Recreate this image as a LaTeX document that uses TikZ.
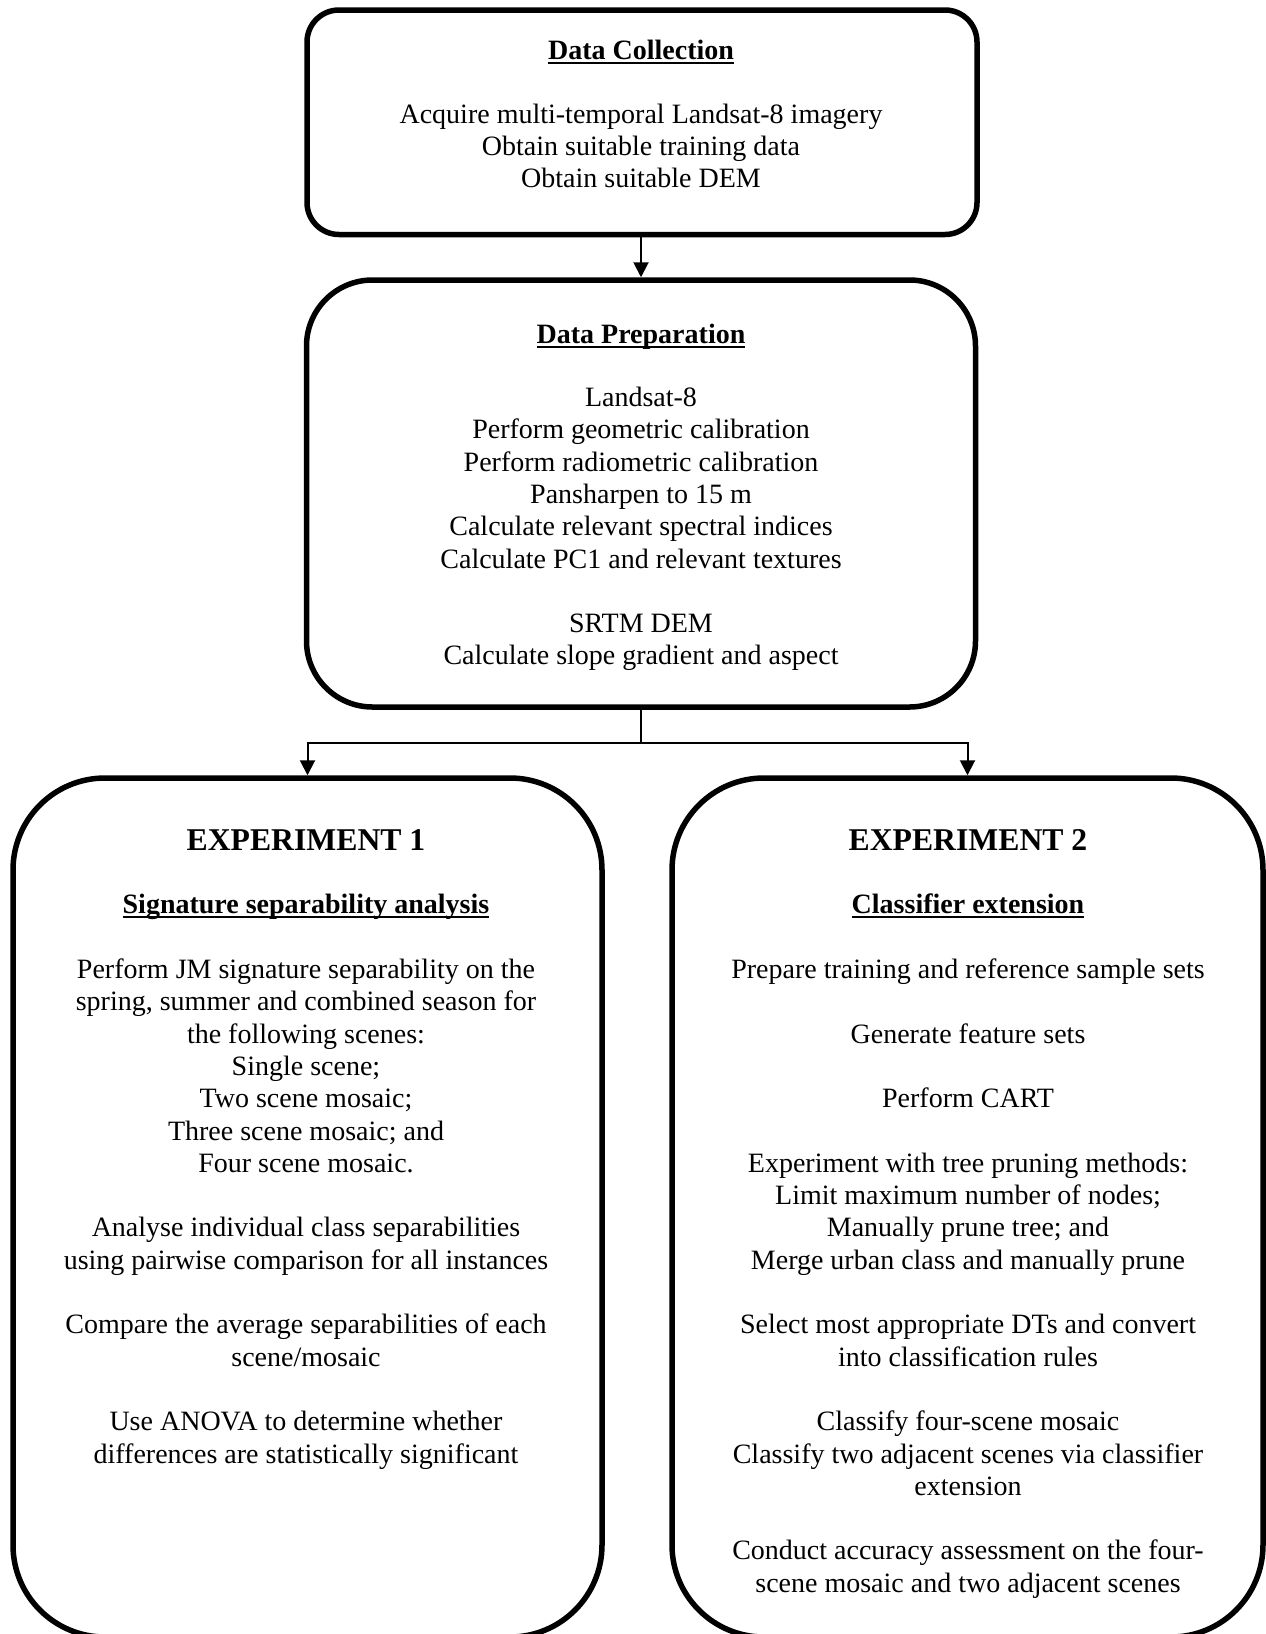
\documentclass[tikz,border=0pt]{standalone}
\usepackage{fontspec}
\setmainfont{Liberation Serif}
\usetikzlibrary{arrows.meta}
\newsavebox\myulsave
\newcommand\myul[1]{\sbox\myulsave{#1}\rlap{\rule[-5pt]{\wd\myulsave}{2pt}}\usebox\myulsave}
\begin{document}
\begin{tikzpicture}[x=1pt,y=-1pt,
  box/.style={draw, line width=5.5pt, inner sep=0pt},
  conn/.style={line width=2pt},
  arr/.style={conn, -{Triangle[length=15pt,width=15pt]}},
  txt/.style={anchor=base, inner sep=0pt, font=\fontsize{28}{32.3}\selectfont},
  ttl/.style={anchor=base, inner sep=0pt, font=\fontsize{28}{32.3}\selectfont\bfseries},
  big/.style={anchor=base, inner sep=0pt, font=\fontsize{31.7}{36}\selectfont\bfseries}]
\useasboundingbox (0,0) rectangle (1266,1634);
\clip (0,0) rectangle (1266,1634);

% boxes
\node[box, minimum width=670pt, minimum height=224.5pt, rounded corners=32pt] (b1) at (642,122.25) {};
\node[box, minimum width=669pt, minimum height=427pt, rounded corners=66pt] (b2) at (641,493.5) {};
\node[box, minimum width=589pt, minimum height=859pt, rounded corners=92pt] (b3) at (307.5,1207.5) {};
\node[box, minimum width=591pt, minimum height=859pt, rounded corners=92pt] (b4) at (967.5,1207.5) {};

% connectors
\draw[arr] (b1.south -| b2.north) -- (b2.north);
\coordinate (j) at (641,743);
\draw[conn] (b2.south) -- (j);
\draw[arr] (j) -| (b3.north);
\draw[arr] (j) -| (b4.north);

% box 1
\node[ttl] (t1) at (641,59) {\myul{Data Collection}};
\node[txt] (t1a) at (641,123) {Acquire multi-temporal Landsat-8 imagery};
\node[txt] (t1b) at (641,155.3) {Obtain suitable training data};
\node[txt] (t1c) at (641,187.6) {Obtain suitable DEM};

% box 2
\node[ttl] (t2) at (641,343) {\myul{Data Preparation}};
\node[txt] (t2a) at (641,406.5) {Landsat-8};
\node[txt] (t2b) at (641,438.8) {Perform geometric calibration};
\node[txt] (t2c) at (641,471.1) {Perform radiometric calibration};
\node[txt] (t2d) at (641,503.4) {Pansharpen to 15 m};
\node[txt] (t2e) at (641,535.7) {Calculate relevant spectral indices};
\node[txt] (t2f) at (641,568) {Calculate PC1 and relevant textures};
\node[txt] (t2g) at (641,632.6) {SRTM DEM};
\node[txt] (t2h) at (641,664.9) {Calculate slope gradient and aspect};

% box 3
\node[big] (t3) at (306,850) {EXPERIMENT 1};
\node[ttl] (t3s) at (306,913) {\myul{Signature separability analysis}};
\node[txt] (t3a) at (306,978.5) {Perform JM signature separability on the};
\node[txt] (t3b) at (306,1010.8) {spring, summer and combined season for};
\node[txt] (t3c) at (306,1043.1) {the following scenes:};
\node[txt] (t3d) at (306,1075.4) {Single scene;};
\node[txt] (t3e) at (306,1107.7) {Two scene mosaic;};
\node[txt] (t3f) at (306,1140) {Three scene mosaic; and};
\node[txt] (t3g) at (306,1172.3) {Four scene mosaic.};
\node[txt] (t3h) at (306,1236.9) {Analyse individual class separabilities};
\node[txt] (t3i) at (306,1269.2) {using pairwise comparison for all instances};
\node[txt] (t3j) at (306,1333.8) {Compare the average separabilities of each};
\node[txt] (t3k) at (306,1366.1) {scene/mosaic};
\node[txt] (t3l) at (306,1430.7) {Use ANOVA to determine whether};
\node[txt] (t3m) at (306,1463) {differences are statistically significant};

% box 4
\node[big] (t4) at (968,850) {EXPERIMENT 2};
\node[ttl] (t4s) at (968,913) {\myul{Classifier extension}};
\node[txt] (t4a) at (968,978.5) {Prepare training and reference sample sets};
\node[txt] (t4b) at (968,1043.1) {Generate feature sets};
\node[txt] (t4c) at (968,1107.7) {Perform CART};
\node[txt] (t4d) at (968,1172.3) {Experiment with tree pruning methods:};
\node[txt] (t4e) at (968,1204.6) {Limit maximum number of nodes;};
\node[txt] (t4f) at (968,1236.9) {Manually prune tree; and};
\node[txt] (t4g) at (968,1269.2) {Merge urban class and manually prune};
\node[txt] (t4h) at (968,1333.8) {Select most appropriate DTs and convert};
\node[txt] (t4i) at (968,1366.1) {into classification rules};
\node[txt] (t4j) at (968,1430.7) {Classify four-scene mosaic};
\node[txt] (t4k) at (968,1463) {Classify two adjacent scenes via classifier};
\node[txt] (t4l) at (968,1495.3) {extension};
\node[txt] (t4m) at (968,1559.9) {Conduct accuracy assessment on the four-};
\node[txt] (t4n) at (968,1592.2) {scene mosaic and two adjacent scenes};
\end{tikzpicture}
\end{document}
